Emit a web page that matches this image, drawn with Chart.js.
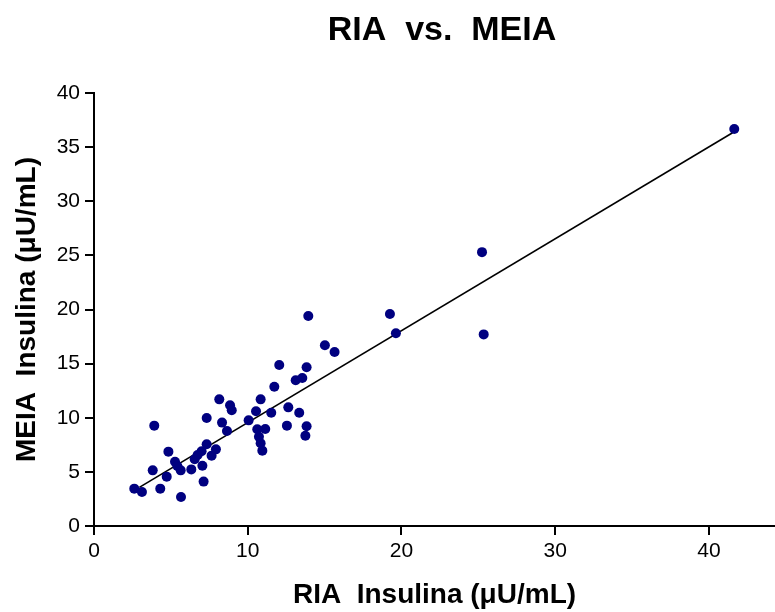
<!DOCTYPE html>
<html>
<head>
<meta charset="utf-8">
<script src="https://cdn.jsdelivr.net/npm/chart.js@4/dist/chart.umd.min.js"></script>
<style>
  html, body { margin: 0; padding: 0; background: #ffffff; }
  #wrap { width: 775px; height: 612px; }
</style>
</head>
<body>
<div id="wrap"><canvas id="c" width="775" height="612"></canvas></div>
<script>
// RIA insulin (x) vs MEIA insulin (y), µU/mL
const riaValues = [
  2.62, 3.12, 3.82, 3.92, 4.31, 4.73, 4.84, 5.27, 5.42, 5.64,
  5.66, 6.33, 6.55, 6.74, 7.00, 7.05, 7.13, 7.33, 7.33, 7.65,
  7.93, 8.15, 8.33, 8.65, 8.85, 8.96, 10.06, 10.54, 10.84, 10.62,
  11.14, 10.73, 10.84, 10.95, 11.53, 11.73, 12.05, 12.64, 12.55, 13.12,
  13.55, 13.35, 13.83, 13.83, 13.75, 13.94, 15.02, 15.65, 19.25, 19.64,
  25.35, 25.24, 41.65
];
const meiaValues = [
  3.45, 3.14, 5.14, 9.27, 3.45, 4.56, 6.87, 5.94, 5.54, 5.14,
  2.68, 5.23, 6.16, 6.56, 6.90, 5.57, 4.10, 7.55, 9.98, 6.50,
  7.08, 11.70, 9.55, 8.78, 11.15, 10.69, 9.76, 10.60, 11.70, 8.93,
  8.96, 8.25, 7.64, 6.96, 10.47, 12.87, 14.87, 10.96, 9.27, 13.46,
  13.67, 10.47, 14.66, 9.21, 8.34, 19.40, 16.69, 16.07, 19.58, 17.80,
  17.70, 25.30, 36.67
];
// regression line end points
const fitX = [2.95, 41.54];
const fitY = [3.57, 36.33];

const xTicks = [0, 10, 20, 30, 40];
const yTicks = [0, 5, 10, 15, 20, 25, 30, 35, 40];

const chartTitle = 'RIA  vs.  MEIA';

const scatterData = riaValues.map((x, i) => ({ x: x, y: meiaValues[i] }));
const fitData = fitX.map((x, i) => ({ x: x, y: fitY[i] }));

const FONT = "'Liberation Sans', Arial, sans-serif";

const titlePlugin = {
  id: 'centerTitle',
  afterDraw(chart) {
    const ctx = chart.ctx;
    ctx.save();
    ctx.fillStyle = '#000000';
    ctx.font = 'bold 34px ' + FONT;
    ctx.textAlign = 'center';
    ctx.textBaseline = 'alphabetic';
    ctx.fillText(chartTitle, 442, 40);
    ctx.restore();
  }
};

new Chart(document.getElementById('c'), {
  type: 'scatter',
  data: {
    datasets: [
      {
        type: 'line',
        data: fitData,
        borderColor: '#000000',
        borderWidth: 1.6,
        pointRadius: 0,
        fill: false,
        clip: false,
        order: 2
      },
      {
        data: scatterData,
        backgroundColor: '#000080',
        borderColor: '#000080',
        borderWidth: 0,
        pointRadius: 5,
        clip: false,
        order: 1
      }
    ]
  },
  plugins: [titlePlugin],
  options: {
    responsive: false,
    animation: false,
    layout: { autoPadding: false, padding: { top: 93, left: 0, right: 0, bottom: 0 } },
    plugins: {
      legend: { display: false },
      tooltip: { enabled: false },
      title: { display: false }
    },
    scales: {
      x: {
        type: 'linear',
        min: 0,
        max: 44.3,
        afterBuildTicks: (s) => { s.ticks = xTicks.map(v => ({ value: v })); },
        afterFit: (s) => { s.height = 86; s.paddingLeft = 0; s.paddingRight = 0; },
        border: { display: true, color: '#000000', width: 2 },
        grid: { display: true, drawOnChartArea: false, drawTicks: true, tickLength: 9, color: '#000000', lineWidth: 2 },
        ticks: { color: '#000000', font: { family: FONT, size: 21 }, padding: 4, maxRotation: 0 },
        title: {
          display: true,
          text: 'RIA  Insulina (\u03BCU/mL)',
          color: '#000000',
          font: { family: FONT, size: 28, weight: 'bold', lineHeight: 1.2 },
          padding: { top: 0, bottom: 0 }
        }
      },
      y: {
        type: 'linear',
        min: 0,
        max: 40,
        afterBuildTicks: (s) => { s.ticks = yTicks.map(v => ({ value: v })); },
        afterFit: (s) => { s.width = 94; s.paddingTop = 0; s.paddingBottom = 0; },
        border: { display: true, color: '#000000', width: 2 },
        grid: { display: true, drawOnChartArea: false, drawTicks: true, tickLength: 9, color: '#000000', lineWidth: 2 },
        ticks: { color: '#000000', font: { family: FONT, size: 21 }, padding: 5 },
        title: {
          display: true,
          text: 'MEIA  Insulina (\u03BCU/mL)',
          color: '#000000',
          font: { family: FONT, size: 28, weight: 'bold', lineHeight: 1.2 },
          padding: { top: 10, bottom: 0 }
        }
      }
    }
  }
});
</script>
</body>
</html>
